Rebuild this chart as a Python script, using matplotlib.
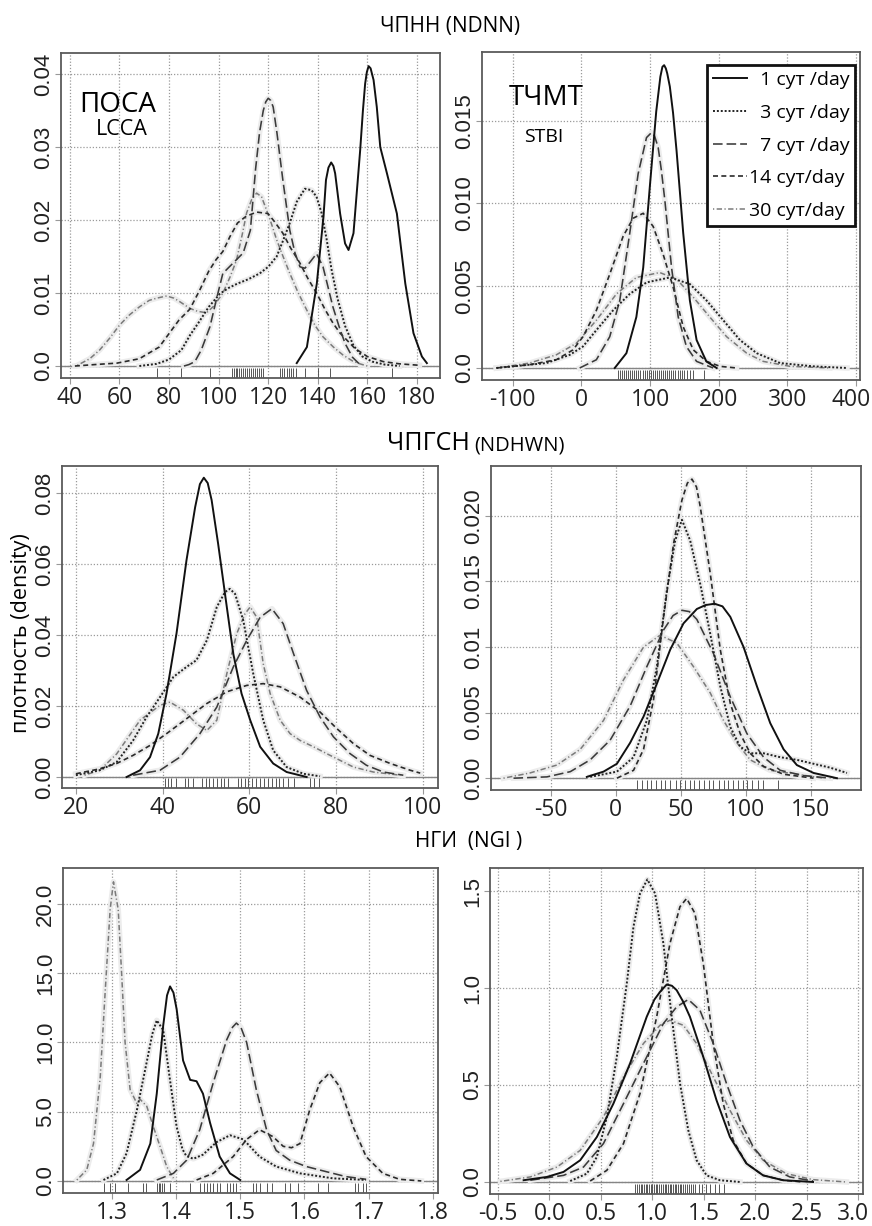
""" Kernel density curves by follow-up day, three indices x two groups """

import matplotlib.pyplot as plt
import matplotlib.transforms as mtransforms

W, H = 872, 1226
SANS = ['Open Sans', 'DejaVu Sans']
ARIAL = ['Liberation Sans', 'DejaVu Sans']

# series order: 1, 3, 7, 14, 30 days
labels = ['\u20071 сут /day', '\u20073 сут /day', '\u20077 сут /day', '14 сут/day', '30 сут/day']
dashes = ['-', (0, (1, 1)), (0, (6, 2.5)), (0, (3, 2)), (0, (0.8, 1.6, 3.5, 1.6))]
colours = ['#111111', '#222222', '#3a3a3a', '#2a2a2a', '#7a7a7a']
widths = [1.4, 1.4, 1.15, 1.2, 1.1]

# ---- ЧПНН, ПОСА (top left)
p1_x1 = [131.5, 135.6, 139.6, 142.3, 143.3, 144.3, 145.4, 146.3, 147, 149, 151, 152.4, 154.4, 157.1, 158.2,
         159.1, 159.8, 160.5, 161.3, 162.5, 163.8, 165.2, 167.9, 171.9, 175.3, 178.6, 182, 184]
p1_y1 = [0.0004, 0.0026, 0.0113, 0.0205, 0.0255, 0.0272, 0.0279, 0.0274, 0.0264, 0.0209, 0.0168, 0.0159,
         0.0182, 0.0296, 0.0350, 0.0387, 0.0403, 0.0411, 0.0408, 0.0392, 0.0355, 0.0300, 0.0264, 0.0209,
         0.0113, 0.0045, 0.0013, 0.0004]
p1_x3 = [68, 75, 80, 85, 88.4, 92, 96, 100.5, 104, 107.6, 112, 116.6, 120, 123.4, 126, 128.7, 131.5, 134.8,
         137.5, 139.5, 141.5, 143.5, 145.5, 148, 151, 154.4, 158, 162, 167, 173]
p1_y3 = [0, 0.0003, 0.0009, 0.0022, 0.0042, 0.006, 0.0081, 0.0099, 0.0107, 0.0113, 0.0119, 0.0127, 0.0136,
         0.015, 0.0172, 0.0196, 0.0225, 0.0243, 0.0241, 0.0232, 0.021, 0.0175, 0.0133, 0.0092, 0.0055, 0.0028,
         0.0013, 0.0006, 0.0002, 0]
p1_x7 = [86, 88, 90.4, 93, 96.5, 99, 101.7, 105.8, 109.9, 112.8, 114.9, 116.5, 118, 119, 120, 121, 122,
         123.5, 125.9, 128.7, 130.8, 132.8, 134.8, 137, 139.5, 142.1, 144, 146.1, 148.5, 151, 154, 157]
p1_y7 = [0, 0.0002, 0.0006, 0.0022, 0.0054, 0.009, 0.0127, 0.0141, 0.0155, 0.0186, 0.027, 0.032, 0.035,
         0.0362, 0.0367, 0.0364, 0.0355, 0.032, 0.0255, 0.0186, 0.0155, 0.0136, 0.0134, 0.0143, 0.0154,
         0.0136, 0.011, 0.0081, 0.0055, 0.0031, 0.0012, 0.0002]
p1_x14 = [42, 50, 59, 68, 76, 84, 88.4, 92.5, 96, 99, 101.7, 104.5, 107.6, 111, 115.3, 119.9, 122.5, 125.9,
          129, 132.8, 136, 139.5, 143, 146.1, 149, 151.6, 155, 160, 166.5, 173, 181]
p1_y14 = [0, 0.0002, 0.0004, 0.001, 0.0026, 0.0063, 0.0078, 0.0105, 0.013, 0.0146, 0.0157, 0.0177, 0.0196,
          0.0205, 0.0211, 0.0209, 0.0198, 0.0182, 0.0162, 0.0141, 0.012, 0.01, 0.0077, 0.0059, 0.0045, 0.0036,
          0.0024, 0.0013, 0.0006, 0.0003, 0.0001]
p1_x30 = [43, 48, 52, 56, 60, 64, 68, 72, 75, 79, 82, 84.4, 88.4, 91.5, 95.1, 98, 101.7, 104.6, 107.2, 109.5,
          111.3, 113.3, 115.3, 117.3, 119.3, 121.3, 123.4, 126, 128.7, 132, 135.5, 139, 142.1, 146.3, 150.2,
          154, 157, 160]
p1_y30 = [0.0001, 0.001, 0.0022, 0.0038, 0.0056, 0.007, 0.0081, 0.009, 0.0093, 0.0096, 0.0093, 0.0088,
          0.0079, 0.0075, 0.0073, 0.0082, 0.01, 0.0122, 0.0145, 0.018, 0.021, 0.0228, 0.0237, 0.0232, 0.0214,
          0.0195, 0.0173, 0.015, 0.0127, 0.0101, 0.0077, 0.0055, 0.004, 0.0026, 0.0015, 0.0007, 0.0003, 0]
p1_rug = [75, 85, 96.5, 105.2, 106, 106.8, 107.6, 108.4, 109.2, 110, 110.8, 111.6, 112.4, 113.2, 114, 114.8,
          115.6, 116.4, 117.2, 117.9, 124.7, 125.6, 126.5, 127.4, 128.3, 129.2, 130.1, 131.4, 134.8, 140.2,
          144.9, 170]

# ---- ЧПНН, ТЧМТ (top right)
p2_x1 = [48.5, 65.5, 80, 90, 99.6, 109, 115, 118, 120.5, 123, 125, 128.8, 133.5, 138.6, 148.3, 158, 167.8,
         182, 197]
p2_y1 = [0, 0.0009, 0.0031, 0.0061, 0.011, 0.0156, 0.0177, 0.0183, 0.0184, 0.0182, 0.0179, 0.0171, 0.0155,
         0.0132, 0.0082, 0.0041, 0.0017, 0.0004, 0]
p2_x3 = [-124, -51, -17, 2, 21.7, 46, 70.4, 94.8, 128.8, 158, 182.4, 206.7, 231, 255.4, 289.5, 338, 387]
p2_y3 = [0, 0.0003, 0.0008, 0.0013, 0.0023, 0.0035, 0.0045, 0.0052, 0.0055, 0.0051, 0.0041, 0.0029, 0.0017,
         0.0009, 0.0003, 0.0001, 0]
p2_x7 = [-2.6, 21.7, 41.2, 55.8, 70.4, 82.6, 94.8, 102, 106.5, 111.8, 116.5, 121.5, 131.3, 141, 153, 167.8, 192]
p2_y7 = [0, 0.0005, 0.0019, 0.0041, 0.0082, 0.0118, 0.014, 0.0143, 0.0141, 0.0134, 0.012, 0.0102, 0.0061,
         0.0031, 0.0013, 0.0004, 0]
p2_x14 = [-124, -75.7, -36.7, -12.4, 2.2, 21.7, 41.2, 60.7, 75.3, 90, 104.5, 119.1, 133.7, 148.3, 163, 182.4,
          202, 226]
p2_y14 = [0, 0.0002, 0.0005, 0.0011, 0.0019, 0.0035, 0.0057, 0.008, 0.0091, 0.0094, 0.0086, 0.0069, 0.0049,
          0.0025, 0.0011, 0.0004, 0.0001, 0]
p2_x30 = [-124, -75.7, -36.7, -7.5, 21.7, 51, 80, 114, 138.6, 163, 187, 211.6, 240.8, 265, 304, 362]
p2_y30 = [0, 0.0003, 0.0008, 0.0015, 0.0029, 0.0045, 0.0055, 0.0058, 0.0054, 0.0043, 0.0031, 0.0019, 0.0009,
          0.0004, 0.0001, 0]
p2_rug = [53, 56, 59, 62, 65, 68, 71, 74, 77, 80, 83, 86, 89, 92, 95, 98, 101, 104, 107, 110, 113, 116, 119,
          122, 125, 128, 131, 134, 137, 140, 143, 146, 150, 154, 158, 162, 178]

# ---- ЧПГСН, ПОСА (middle left)
p3_x1 = [31.7, 34.8, 37.1, 39, 40.9, 43.2, 45.5, 47.5, 48.6, 49.5, 50.4, 51.3, 52.8, 54.8, 56.3, 58.2, 60.2,
         62.5, 65.5, 68.6, 73.2]
p3_y1 = [0, 0.0019, 0.0056, 0.0122, 0.0235, 0.0404, 0.061, 0.076, 0.0825, 0.0843, 0.0828, 0.078, 0.0657,
         0.0479, 0.0347, 0.0235, 0.016, 0.0085, 0.0038, 0.0014, 0]
p3_x3 = [20, 25.5, 29.4, 33.2, 36.3, 39.4, 42.5, 45.5, 47.8, 50.2, 52.5, 54.4, 55.5, 56.7, 58.6, 60.9, 63.2,
         65.5, 68.6, 72.5, 76.3]
p3_y3 = [0.0005, 0.0019, 0.0042, 0.0103, 0.0169, 0.0225, 0.0282, 0.031, 0.0329, 0.0385, 0.0479, 0.0521,
         0.053, 0.0516, 0.0441, 0.0291, 0.016, 0.0075, 0.0028, 0.0009, 0.0002]
p3_x7 = [33.2, 39.4, 44, 48.6, 52.5, 56.3, 59.4, 62.5, 65.2, 67.8, 70.2, 73.2, 76.3, 79.4, 83.2, 87, 90.9, 95.5]
p3_y7 = [0.0005, 0.0019, 0.0056, 0.0122, 0.0197, 0.031, 0.0385, 0.045, 0.0474, 0.0432, 0.0347, 0.0244,
         0.0169, 0.0113, 0.0066, 0.0033, 0.0014, 0.0005]
p3_x14 = [20, 25.5, 29.4, 33.2, 37.1, 40.9, 45.5, 50.2, 54.8, 59.4, 63.2, 67.1, 71.7, 76.3, 80.2, 84, 87.8,
          92.5, 97.1, 99.4]
p3_y14 = [0.0009, 0.0023, 0.0038, 0.0061, 0.0089, 0.0122, 0.0164, 0.0207, 0.024, 0.0258, 0.0263, 0.0254,
          0.0225, 0.0183, 0.0136, 0.0094, 0.0061, 0.0038, 0.0019, 0.0011]
p3_x30 = [22, 25.5, 29.4, 34.8, 39.4, 41.7, 44.8, 47.8, 50.2, 52.5, 54.8, 57.1, 59, 60.2, 61.7, 63.2, 64.8,
          67.1, 69.4, 71.7, 74.8, 77.8, 80.9, 84, 88.6, 94.8]
p3_y30 = [0.0005, 0.0019, 0.0065, 0.016, 0.0202, 0.0211, 0.0188, 0.015, 0.0131, 0.016, 0.0291, 0.0404,
          0.046, 0.0479, 0.045, 0.0319, 0.0235, 0.016, 0.0122, 0.0103, 0.0085, 0.0066, 0.0047, 0.0028, 0.0014,
          0.0005]
p3_rug = [40.5, 41.3, 42, 43, 45.2, 45.9, 46.9, 49, 49.9, 50.8, 51.7, 52.5, 53.4, 54.2, 55, 57.3, 58, 58.9,
          59.8, 60.7, 61.6, 62.5, 63.4, 64.3, 65.2, 66.1, 66.9, 67.8, 69, 70.2, 74, 75, 76]

# ---- ЧПГСН, ТЧМТ (middle right)
p4_x1 = [-22.3, -9.5, 0.8, 11, 21.3, 31.5, 41.8, 52, 62.3, 69, 75.9, 82, 88, 98.2, 108.5, 118.7, 129, 139.2,
         152, 170]
p4_y1 = [0.0001, 0.0005, 0.0011, 0.0027, 0.0047, 0.0072, 0.0098, 0.0118, 0.0129, 0.0132, 0.0133, 0.0131,
         0.0123, 0.01, 0.007, 0.0042, 0.0022, 0.001, 0.0004, 0]
p4_x3 = [-19.7, 0.8, 13.6, 23.8, 31.5, 39.2, 45.6, 50.8, 57.2, 64.9, 72.6, 80.3, 88, 95.6, 103.3, 113.6, 126.4,
         139.2, 152, 164.9, 177.7]
p4_y3 = [0.0001, 0.0005, 0.0016, 0.0044, 0.0085, 0.0143, 0.0181, 0.0197, 0.0181, 0.0148, 0.011, 0.007,
         0.0039, 0.0024, 0.0019, 0.0019, 0.0016, 0.0014, 0.0011, 0.0008, 0.0004]
p4_x7 = [-78.7, -53, -35, -19.7, -4.4, 11, 23.8, 36.7, 44, 50.8, 56.5, 62.3, 75.1, 88, 100.8, 113.6, 126.4,
         144.4, 164.9]
p4_y7 = [0, 0.0001, 0.0005, 0.0014, 0.0029, 0.0055, 0.0085, 0.0113, 0.0124, 0.0128, 0.0127, 0.0121, 0.0095,
         0.0062, 0.0034, 0.0016, 0.0006, 0.0002, 0]
p4_x14 = [0.8, 13.6, 21.3, 29, 36.7, 44.4, 50.8, 55, 58.5, 62, 64.9, 72.6, 80.3, 88, 95.6, 103.3, 113.6, 129, 152]
p4_y14 = [0, 0.0006, 0.0022, 0.006, 0.0123, 0.0179, 0.0212, 0.0225, 0.0228, 0.0222, 0.0207, 0.0156, 0.0098,
          0.0057, 0.0034, 0.0019, 0.0009, 0.0003, 0]
p4_x30 = [-86.4, -66, -45.4, -27.4, -9.5, 5.9, 21.3, 34, 46.9, 59.7, 72.6, 82.8, 93.1, 103.3, 118.7, 139.2,
          159.7]
p4_y30 = [0, 0.0004, 0.001, 0.0022, 0.0044, 0.0075, 0.01, 0.0109, 0.0103, 0.0085, 0.0065, 0.0044, 0.0027,
          0.0014, 0.0006, 0.0003, 0]
p4_rug = [16, 20, 24, 27, 31, 35, 38, 42, 46, 49, 53, 57, 60, 64, 68, 72, 75, 79, 83, 86, 90, 94, 98, 101,
          105, 109, 113, 125]

# ---- НГИ, ПОСА (bottom left)
p5_x1 = [1.323, 1.344, 1.36, 1.37, 1.38, 1.386, 1.3907, 1.396, 1.401, 1.411, 1.422, 1.432, 1.442, 1.453,
         1.468, 1.484, 1.5]
p5_y1 = [0.07, 0.8, 2.7, 6.3, 11.2, 13.4, 14.05, 13.6, 12.4, 8.7, 7.3, 7.2, 6.3, 4.2, 1.76, 0.55, 0.07]
p5_x3 = [1.287, 1.308, 1.323, 1.339, 1.354, 1.363, 1.37, 1.38, 1.39, 1.401, 1.41, 1.416, 1.427, 1.442, 1.463,
         1.484, 1.505, 1.53, 1.556, 1.593, 1.644, 1.696]
p5_y3 = [0.07, 0.55, 2.0, 5.1, 8.5, 10.6, 11.6, 10.9, 7.5, 3.9, 2.3, 1.8, 1.6, 1.9, 2.8, 3.3, 3.0, 1.76, 1.04,
         0.55, 0.19, 0.07]
p5_x7 = [1.37, 1.396, 1.4166, 1.437, 1.458, 1.479, 1.488, 1.494, 1.501, 1.51, 1.525, 1.541, 1.556, 1.577,
         1.603, 1.634, 1.665, 1.696]
p5_y7 = [0.07, 0.55, 1.5, 3.7, 7.1, 10.2, 11.1, 11.4, 11.1, 10.0, 6.6, 3.7, 2.2, 1.5, 1.04, 0.67, 0.31, 0.12]
p5_x14 = [1.432, 1.458, 1.489, 1.51, 1.53, 1.551, 1.567, 1.58, 1.593, 1.608, 1.624, 1.639, 1.655, 1.676, 1.696,
          1.722, 1.748, 1.782]
p5_y14 = [0.07, 0.55, 1.76, 3.0, 3.7, 3.2, 2.5, 2.4, 2.7, 5.1, 7.1, 7.8, 6.8, 3.9, 1.76, 0.55, 0.12, 0]
p5_x30 = [1.2456, 1.261, 1.2715, 1.282, 1.2896, 1.2974, 1.3026, 1.31, 1.3155, 1.3207, 1.3285, 1.339, 1.344,
          1.3544, 1.3648, 1.3751, 1.3855, 1.396]
p5_y30 = [0.07, 0.8, 2.7, 7.5, 13.6, 19.6, 21.6, 19.6, 14.8, 10.0, 6.6, 5.6, 5.9, 5.4, 3.9, 2.5, 1.04, 0.2]
p5_rug = [1.288, 1.297, 1.305, 1.326, 1.349, 1.354, 1.370, 1.373, 1.375, 1.378, 1.381, 1.391, 1.422, 1.437,
          1.443, 1.448, 1.453, 1.458, 1.464, 1.469, 1.479, 1.484, 1.489, 1.494, 1.520, 1.525, 1.531, 1.541,
          1.550, 1.569, 1.577, 1.590, 1.621, 1.637, 1.678, 1.683, 1.691, 1.696]

# ---- НГИ, ТЧМТ (bottom right)
p6_x1 = [-0.251, -0.024, 0.137, 0.299, 0.461, 0.622, 0.784, 0.946, 1.02, 1.075, 1.14, 1.19, 1.237, 1.3, 1.366,
         1.496, 1.625, 1.755, 1.916, 2.078, 2.272, 2.563]
p6_y1 = [0.009, 0.026, 0.052, 0.112, 0.232, 0.404, 0.611, 0.852, 0.94, 0.98, 1.018, 1.012, 0.989, 0.93, 0.852,
         0.645, 0.421, 0.232, 0.095, 0.034, 0.009, 0]
p6_x3 = [0.202, 0.364, 0.461, 0.558, 0.655, 0.752, 0.817, 0.881, 0.952, 1.027, 1.108, 1.189, 1.27, 1.35, 1.431,
         1.528, 1.658, 1.852]
p6_y3 = [0.005, 0.043, 0.129, 0.335, 0.645, 1.023, 1.316, 1.488, 1.56, 1.488, 1.23, 0.852, 0.507, 0.267,
         0.112, 0.034, 0.009, 0]
p6_x7 = [-0.186, 0.137, 0.331, 0.525, 0.72, 0.914, 1.108, 1.237, 1.35, 1.463, 1.593, 1.722, 1.852, 1.981,
         2.143, 2.337, 2.563]
p6_y7 = [0.009, 0.034, 0.077, 0.198, 0.404, 0.611, 0.817, 0.903, 0.941, 0.886, 0.714, 0.507, 0.318, 0.181,
         0.077, 0.026, 0.005]
p6_x14 = [0.396, 0.558, 0.72, 0.881, 1.043, 1.172, 1.269, 1.334, 1.415, 1.496, 1.593, 1.69, 1.787, 1.916,
          2.078, 2.272, 2.466]
p6_y14 = [0.005, 0.06, 0.198, 0.456, 0.852, 1.23, 1.419, 1.462, 1.385, 1.127, 0.714, 0.404, 0.215, 0.095,
          0.034, 0.009, 0]
p6_x30 = [-0.477, -0.186, 0.073, 0.299, 0.525, 0.72, 0.914, 1.075, 1.172, 1.302, 1.431, 1.593, 1.755, 1.916,
          2.078, 2.304, 2.563, 2.887]
p6_y30 = [0.003, 0.026, 0.077, 0.163, 0.335, 0.542, 0.714, 0.808, 0.834, 0.808, 0.714, 0.542, 0.37, 0.215,
          0.112, 0.043, 0.012, 0]
p6_rug = [0.83, 0.85, 0.87, 0.89, 0.9, 0.92, 0.94, 0.95, 0.97, 0.99, 1.0, 1.02, 1.04, 1.05, 1.07, 1.08, 1.1,
          1.12, 1.13, 1.15, 1.17, 1.18, 1.2, 1.22, 1.23, 1.25, 1.27, 1.28, 1.3, 1.32, 1.34, 1.36, 1.38, 1.4,
          1.42, 1.45, 1.48, 1.52, 1.56, 1.61, 1.65, 1.70]

fig = plt.figure(figsize=(W / 100, H / 100), dpi=100)


def fx(px):
    return px / W


def fy(py):
    return 1 - py / H


def panel(box, curves, rug, xlim, ylim, xt, xtl, yt, ytl):
    """Draw one density panel; box is (left, top, right, bottom) in pixels"""
    l, t, r, b = box
    ax = fig.add_axes([l / W, 1 - b / H, (r - l) / W, (b - t) / H])
    ax.set_xlim(*xlim)
    ax.set_ylim(*ylim)
    ax.set_xticks(xt, xtl, fontsize=16.5, family=SANS)
    ax.set_yticks(yt, ytl, fontsize=16, family=ARIAL, rotation=90, va='center')
    ax.tick_params(axis='x', length=4, width=0.8, color='#999999', pad=2, labelcolor='#222222')
    ax.tick_params(axis='y', length=4, width=0.8, color='#999999', pad=1, labelcolor='#222222')
    ax.grid(True, color='#9a9a9a', lw=0.9, ls=(0, (1, 1.5)))
    ax.set_axisbelow(True)
    for s in ax.spines.values():
        s.set_color('#5a5a5a')
        s.set_linewidth(1.3)
    ax.axhline(0, color='#858585', lw=1.0, zorder=1)
    ax.vlines(rug, 0, 0.03, transform=ax.get_xaxis_transform(), color='#555555', lw=0.7)
    lines = [None] * 5
    for i in [4, 3, 2, 1, 0]:
        xs, ys = curves[i]
        if i > 0:
            ax.plot(xs, ys, color='#ececec', lw=4, zorder=1.5, solid_joinstyle='round')
        lines[i], = ax.plot(xs, ys, ls=dashes[i], color=colours[i], lw=widths[i], zorder=3,
                            solid_joinstyle='round', dash_joinstyle='round')
    return ax, lines


def nudge_last_xlabel(ax, dx_px):
    """Shift the right-most tick label a little so it stays on the page"""
    lab = ax.get_xticklabels()[-1]
    lab.set_transform(lab.get_transform() + mtransforms.ScaledTranslation(dx_px / 100, 0, fig.dpi_scale_trans))


ax1, _ = panel((61, 53, 440, 378),
               [(p1_x1, p1_y1), (p1_x3, p1_y3), (p1_x7, p1_y7), (p1_x14, p1_y14), (p1_x30, p1_y30)], p1_rug,
               (36.4, 189.3), (-0.00164, 0.0429),
               [40, 60, 80, 100, 120, 140, 160, 180], ['40', '60', '80', '100', '120', '140', '160', '180'],
               [0, 0.01, 0.02, 0.03, 0.04], ['0.0', '0.01', '0.02', '0.03', '0.04'])

ax2, leg_lines = panel((482, 52, 860, 380),
                       [(p2_x1, p2_y1), (p2_x3, p2_y3), (p2_x7, p2_y7), (p2_x14, p2_y14), (p2_x30, p2_y30)],
                       p2_rug, (-145, 406), (-0.00073, 0.0192),
                       [-100, 0, 100, 200, 300, 400], ['-100', '0', '100', '200', '300', '400'],
                       [0, 0.005, 0.010, 0.015], ['0.0', '0.005', '0.010', '0.015'])

ax3, _ = panel((62, 466, 438, 788),
               [(p3_x1, p3_y1), (p3_x3, p3_y3), (p3_x7, p3_y7), (p3_x14, p3_y14), (p3_x30, p3_y30)], p3_rug,
               (16.8, 103.5), (-0.0031, 0.0876),
               [20, 40, 60, 80, 100], ['20', '40', '60', '80', '100'],
               [0, 0.02, 0.04, 0.06, 0.08], ['0.00', '0.02', '0.04', '0.06', '0.08'])

ax4, _ = panel((491, 466, 861, 790),
               [(p4_x1, p4_y1), (p4_x3, p4_y3), (p4_x7, p4_y7), (p4_x14, p4_y14), (p4_x30, p4_y30)], p4_rug,
               (-96, 188.5), (-0.0009, 0.0238),
               [-50, 0, 50, 100, 150], ['-50', '0', '50', '100', '150'],
               [0, 0.005, 0.01, 0.015, 0.02], ['0.00', '0.005', '0.01', '0.015', '0.020'])

ax5, _ = panel((63, 868, 438, 1193),
               [(p5_x1, p5_y1), (p5_x3, p5_y3), (p5_x7, p5_y7), (p5_x14, p5_y14), (p5_x30, p5_y30)], p5_rug,
               (1.224, 1.808), (-0.87, 22.6),
               [1.3, 1.4, 1.5, 1.6, 1.7, 1.8], ['1.3', '1.4', '1.5', '1.6', '1.7', '1.8'],
               [0, 5, 10, 15, 20], ['0.0', '5.0', '10.0', '15.0', '20.0'])

ax6, _ = panel((490, 868, 863, 1194),
               [(p6_x1, p6_y1), (p6_x3, p6_y3), (p6_x7, p6_y7), (p6_x14, p6_y14), (p6_x30, p6_y30)], p6_rug,
               (-0.578, 3.049), (-0.062, 1.619),
               [-0.5, 0, 0.5, 1, 1.5, 2, 2.5, 3], ['-0.5', '0.0', '0.5', '1.0', '1.5', '2.0', '2.5', '3.0'],
               [0, 0.5, 1, 1.5], ['0.0', '0.5', '1.0', '1.5'])

nudge_last_xlabel(ax2, -5)
nudge_last_xlabel(ax6, -5)

# legend box: 715-855 x 65-231 px
leg = ax2.legend(leg_lines, labels, loc='upper right', bbox_to_anchor=(0.987, 0.96), borderaxespad=0,
                 prop={'family': SANS, 'size': 14}, handlelength=1.75, handletextpad=0.1, labelspacing=0.76,
                 borderpad=0.3, fancybox=False, framealpha=1)
leg.get_frame().set_edgecolor('#111111')
leg.get_frame().set_linewidth(2.0)

# row titles
fig.text(fx(450), fy(32), 'ЧПНН (NDNN)', ha='center', va='baseline', fontsize=15, family=SANS)
fig.text(fx(470), fy(450), 'ЧПГСН', ha='right', va='baseline', fontsize=18, family=SANS)
fig.text(fx(474), fy(450), '(NDHWN)', ha='left', va='baseline', fontsize=14.5, family=SANS)
fig.text(fx(469), fy(847), 'НГИ  (NGI )', ha='center', va='baseline', fontsize=15, family=SANS)

# group labels inside the top panels
fig.text(fx(118), fy(112), 'ПОСА', ha='center', va='baseline', fontsize=20, family=SANS)
fig.text(fx(122), fy(135), 'LCCA', ha='center', va='baseline', fontsize=15.5, family=SANS)
fig.text(fx(546), fy(105), 'ТЧМТ', ha='center', va='baseline', fontsize=20, family=SANS)
fig.text(fx(544), fy(142), 'STBI', ha='center', va='baseline', fontsize=14, family=SANS)

fig.text(fx(22), fy(633), 'плотность (density)', rotation=90, ha='center', va='center', fontsize=15.5,
         family=SANS)

plt.savefig('out.png', dpi=100)
